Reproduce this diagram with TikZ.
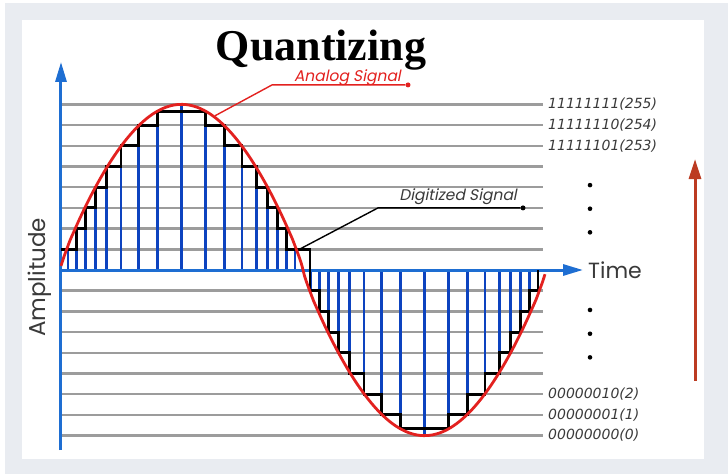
\documentclass[tikz,border=0pt]{standalone}
\usepackage{fontspec}
\setmainfont{Liberation Serif}
\newfontfamily\gothic{Poppins}
\newfontfamily\gothicit[FakeSlant=0.2]{Poppins}
\newfontfamily\codefont{DejaVu Sans}
\usetikzlibrary{arrows.meta, positioning}
\definecolor{panelgray}{HTML}{E9ECF1}
\definecolor{axisblue}{HTML}{1E6ED2}
\definecolor{sampblue}{HTML}{0D43BF}
\definecolor{sigred}{HTML}{E3211F}
\definecolor{gridgray}{HTML}{9C9C9C}
\definecolor{arrowred}{HTML}{BC3B22}
\definecolor{lblgray}{HTML}{3A3A3A}
\tikzset{
  gridline/.style={gridgray,line width=2.5pt},
  sampline/.style={sampblue,line width=2.8pt},
  stairline/.style={black,line width=2.9pt},
  sigcurve/.style={sigred,line width=2.8pt},
  axisline/.style={axisblue,line width=3pt,-{Triangle[length=20pt,width=11pt]}},
  leader/.style={line width=1.4pt},
  leaddot/.style={circle,fill,inner sep=0pt,minimum size=5pt},
  codelbl/.style={anchor=west,inner sep=0pt,text=lblgray,font=\codefont\itshape\fontsize{14}{14}\selectfont},
  sidelbl/.style={inner sep=0pt,font=\gothicit\fontsize{15.5}{15.5}\selectfont},
  vdot/.style={circle,fill=black,inner sep=0pt,minimum size=4.6pt},
}

\begin{document}
\begin{tikzpicture}[x=1pt,y=20.7pt]
  % panel
  \useasboundingbox (-61pt,-204pt) rectangle (667pt,270pt);
  \fill[panelgray] (-56pt,-204pt) rectangle (667pt,267pt);
  \fill[white] (-39pt,-189pt) rectangle (643pt,250pt);
  % quantization levels
  \foreach \k in {-8,...,-1,1,2,...,8}
    \draw[gridline] (0,\k) -- (482,\k);
  % samples
  \foreach \x/\h in {7/1,15.5/2,24.5/3,34.5/4,45.5/5,60/6,77.5/7,96.5/7.65,120.5/8,
                     144.5/7.65,163.5/7,181/6,195.5/5,206.5/4,216.5/3,225.5/2,234/1,
                     250/-1,258.5/-2,267.5/-3,277.5/-4,288.5/-5,303/-6,320.5/-7,339.5/-7.65,363.5/-8,
                     387.5/-7.65,406.5/-7,424/-6,438.5/-5,449.5/-4,459.5/-3,468.5/-2,477/-1}
    \draw[sampline] (\x,0) -- (\x,\h);
  % axes
  \coordinate (O) at (0,0);
  \coordinate (yTop) at (0,10.05);
  \coordinate (yBot) at (0,-8.7);
  \coordinate (xEnd) at (522,0);
  \draw[axisline] (yBot) -- (yTop);
  \draw[axisline] (O) -- (xEnd);
  % digitized signal
  \draw[stairline] (0,1)
    foreach \x/\a/\b in {15.5/1/2,24.5/2/3,34.5/3/4,45.5/4/5,60/5/6,77.5/6/7,96.5/7/7.65,
                         144.5/7.65/7,163.5/7/6,181/6/5,195.5/5/4,206.5/4/3,216.5/3/2,225.5/2/1,249/1/-1,
                         258.5/-1/-2,267.5/-2/-3,277.5/-3/-4,288.5/-4/-5,303/-5/-6,320.5/-6/-7,339.5/-7/-7.65,
                         387.5/-7.65/-7,406.5/-7/-6,424/-6/-5,438.5/-5/-4,449.5/-4/-3,459.5/-3/-2,468.5/-2/-1,477/-1/0}
    { -- (\x,\a) -- (\x,\b) };
  % analog signal
  \draw[sigcurve] plot[domain=0:484,samples=160,smooth]
    (\x,{8*sign(sin(0.7407*(\x+1)))*pow(abs(sin(0.7407*(\x+1)))+0.0001,0.85)});
  % title and labels
  \node[anchor=base,inner sep=0pt,font=\bfseries\fontsize{44}{44}\selectfont] (title) at (260,10.1) {Quantizing};
  \node[leaddot,sigred] (anaDot) at (347,8.94) {};
  \coordinate (anaBend) at (211,8.94);
  \coordinate (anaEnd) at (154,7.45);
  \draw[leader,sigred] (anaDot) -- (anaBend) -- (anaEnd);
  \node[sidelbl,anchor=base east,text=sigred] (anaLbl) at (340,9.12) {Analog Signal};
  \node[leaddot,black] (digDot) at (462,3) {};
  \coordinate (digBend) at (317,3);
  \coordinate (digEnd) at (238.4,1);
  \draw[leader,black] (digDot) -- (digBend) -- (digEnd);
  \node[sidelbl,anchor=base east,text=lblgray] (digLbl) at (456,3.38) {Digitized Signal};
  % level codes
  \node[codelbl] (c255) at (487,8) {11111111(255)};
  \node[codelbl] (c254) at (487,7) {11111110(254)};
  \node[codelbl] (c253) at (487,6) {11111101(253)};
  \node[codelbl] (c2) at (487,-6) {00000010(2)};
  \node[codelbl] (c1) at (487,-7) {00000001(1)};
  \node[codelbl] (c0) at (487,-8) {00000000(0)};
  \foreach \k [count=\i] in {4.1,2.96,1.82,-1.93,-3.08,-4.22}
    \node[vdot] (dot\i) at (529,\k) {};
  % axis names
  \node[anchor=west,inner sep=0pt,text=lblgray,font=\gothic\fontsize{22}{22}\selectfont] (timeLbl) at (527,0) {Time};
  \node[rotate=90,inner sep=0pt,text=lblgray,font=\gothic\fontsize{23}{23}\selectfont] (ampLbl) at (-21,-0.36) {Amplitude};
  % rising arrow
  \coordinate (upBot) at (634,-5.36);
  \coordinate (upTop) at (634,5.36);
  \draw[arrowred,line width=3pt,-{Triangle[length=20pt,width=12pt]}] (upBot) -- (upTop);
\end{tikzpicture}
\end{document}
